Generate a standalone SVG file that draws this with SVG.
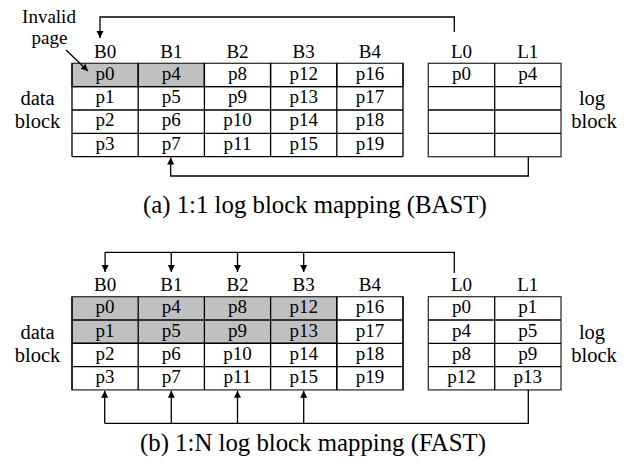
<svg xmlns="http://www.w3.org/2000/svg" width="624" height="461" viewBox="0 0 624 461">
<defs>
<style>
text{font-family:"Liberation Serif","Times New Roman",serif;fill:#000}
.c{font-size:19px;text-anchor:middle}
.s{font-size:20.5px;text-anchor:middle}
.cap{font-size:24.8px}
.cell{fill:#fff;stroke:#333;stroke-width:1.3}
.inv{fill:#c0c0c0;stroke:#333;stroke-width:1.3}
.ln{fill:none;stroke:#000;stroke-width:1.3}
</style>
<marker id="ah" viewBox="0 0 10 10" refX="10" refY="5" markerWidth="7" markerHeight="10" markerUnits="userSpaceOnUse" orient="auto"><path d="M0,0L10,5L0,10Z" fill="#000"/></marker>
</defs>
<rect width="624" height="461" fill="#fff"/>

<!-- ===== (a) ===== -->
<g id="a-data">
<rect class="inv" x="72" y="63.3" width="66.2" height="23.3"/>
<rect class="inv" x="138.2" y="63.3" width="66.2" height="23.3"/>
<rect class="cell" x="204.4" y="63.3" width="66.2" height="23.3"/>
<rect class="cell" x="270.6" y="63.3" width="66.2" height="23.3"/>
<rect class="cell" x="336.8" y="63.3" width="66.2" height="23.3"/>
<path class="ln" d="M72 86.6H403M72 110H403M72 133.3H403M72 156.7H403M72 63.3V156.7M138.2 63.3V156.7M204.4 63.3V156.7M270.6 63.3V156.7M336.8 63.3V156.7M403 63.3V156.7" stroke="#333"/>
<text class="c" x="105.1" y="57.5">B0</text><text class="c" x="171.3" y="57.5">B1</text><text class="c" x="237.5" y="57.5">B2</text><text class="c" x="303.7" y="57.5">B3</text><text class="c" x="369.9" y="57.5">B4</text>
<text class="c" x="105.1" y="79.8">p0</text><text class="c" x="171.3" y="79.8">p4</text><text class="c" x="237.5" y="79.8">p8</text><text class="c" x="303.7" y="79.8">p12</text><text class="c" x="369.9" y="79.8">p16</text>
<text class="c" x="105.1" y="103.1">p1</text><text class="c" x="171.3" y="103.1">p5</text><text class="c" x="237.5" y="103.1">p9</text><text class="c" x="303.7" y="103.1">p13</text><text class="c" x="369.9" y="103.1">p17</text>
<text class="c" x="105.1" y="126.4">p2</text><text class="c" x="171.3" y="126.4">p6</text><text class="c" x="237.5" y="126.4">p10</text><text class="c" x="303.7" y="126.4">p14</text><text class="c" x="369.9" y="126.4">p18</text>
<text class="c" x="105.1" y="149.7">p3</text><text class="c" x="171.3" y="149.7">p7</text><text class="c" x="237.5" y="149.7">p11</text><text class="c" x="303.7" y="149.7">p15</text><text class="c" x="369.9" y="149.7">p19</text>
<text class="s" x="37.5" y="105">data</text><text class="s" x="37.5" y="128">block</text>
</g>
<g id="a-log">
<rect class="cell" x="428.3" y="63.3" width="132.7" height="93.4"/>
<path class="ln" d="M428.3 86.6H561M428.3 110H561M428.3 133.3H561M494.7 63.3V156.7" stroke="#333"/>
<text class="c" x="461.5" y="57.5">L0</text><text class="c" x="527.8" y="57.5">L1</text>
<text class="c" x="461.5" y="79.8">p0</text><text class="c" x="527.8" y="79.8">p4</text>
<text class="s" x="592" y="105">log</text><text class="s" x="594" y="128">block</text>
</g>
<g id="a-note">
<text class="c" x="49" y="22.5">Invalid</text>
<text class="c" x="49.5" y="44">page</text>
</g>
<g id="a-connectors">
<path class="ln" d="M66 50L88 71" marker-end="url(#ah)"/>
<path class="ln" d="M454.3 32V17H100V38" marker-end="url(#ah)"/>
<path class="ln" d="M528.3 156.7V176H170.7V157.5" marker-end="url(#ah)"/>
</g>
<text class="cap" x="143" y="213">(a) 1:1 log block mapping (BAST)</text>

<!-- ===== (b) ===== -->
<g id="b-data">
<rect class="inv" x="72" y="296.7" width="264.8" height="46.6"/>
<rect class="cell" x="72" y="343.3" width="264.8" height="46.6"/>
<rect class="cell" x="336.8" y="296.7" width="66.2" height="93.2"/>
<path class="ln" d="M72 320H403M72 343.3H403M72 366.6H403M72 296.7V389.9M138.2 296.7V389.9M204.4 296.7V389.9M270.6 296.7V389.9M336.8 296.7V389.9M403 296.7V389.9" stroke="#333"/>
<text class="c" x="105.1" y="290.5">B0</text><text class="c" x="171.3" y="290.5">B1</text><text class="c" x="237.5" y="290.5">B2</text><text class="c" x="303.7" y="290.5">B3</text><text class="c" x="369.9" y="290.5">B4</text>
<text class="c" x="105.1" y="313.2">p0</text><text class="c" x="171.3" y="313.2">p4</text><text class="c" x="237.5" y="313.2">p8</text><text class="c" x="303.7" y="313.2">p12</text><text class="c" x="369.9" y="313.2">p16</text>
<text class="c" x="105.1" y="336.5">p1</text><text class="c" x="171.3" y="336.5">p5</text><text class="c" x="237.5" y="336.5">p9</text><text class="c" x="303.7" y="336.5">p13</text><text class="c" x="369.9" y="336.5">p17</text>
<text class="c" x="105.1" y="359.8">p2</text><text class="c" x="171.3" y="359.8">p6</text><text class="c" x="237.5" y="359.8">p10</text><text class="c" x="303.7" y="359.8">p14</text><text class="c" x="369.9" y="359.8">p18</text>
<text class="c" x="105.1" y="383.1">p3</text><text class="c" x="171.3" y="383.1">p7</text><text class="c" x="237.5" y="383.1">p11</text><text class="c" x="303.7" y="383.1">p15</text><text class="c" x="369.9" y="383.1">p19</text>
<text class="s" x="37.5" y="338.5">data</text><text class="s" x="37.5" y="361.5">block</text>
</g>
<g id="b-log">
<rect class="cell" x="428.3" y="296.7" width="132.7" height="93.2"/>
<path class="ln" d="M428.3 320H561M428.3 343.3H561M428.3 366.6H561M494.7 296.7V389.9" stroke="#333"/>
<text class="c" x="461.5" y="290.5">L0</text><text class="c" x="527.8" y="290.5">L1</text>
<text class="c" x="461.5" y="313.2">p0</text><text class="c" x="527.8" y="313.2">p1</text>
<text class="c" x="461.5" y="336.5">p4</text><text class="c" x="527.8" y="336.5">p5</text>
<text class="c" x="461.5" y="359.8">p8</text><text class="c" x="527.8" y="359.8">p9</text>
<text class="c" x="461.5" y="383.1">p12</text><text class="c" x="527.8" y="383.1">p13</text>
<text class="s" x="592" y="338.5">log</text><text class="s" x="594" y="361.5">block</text>
</g>
<g id="b-connectors">
<path class="ln" d="M454.3 273V252.3H105.1"/>
<path class="ln" d="M105.1 252.3V272" marker-end="url(#ah)"/>
<path class="ln" d="M171.3 252.3V272" marker-end="url(#ah)"/>
<path class="ln" d="M237.5 252.3V272" marker-end="url(#ah)"/>
<path class="ln" d="M303.7 252.3V272" marker-end="url(#ah)"/>
<path class="ln" d="M528.3 389.9V423.3H104.7"/>
<path class="ln" d="M104.7 423.3V390.7" marker-end="url(#ah)"/>
<path class="ln" d="M171.3 423.3V390.7" marker-end="url(#ah)"/>
<path class="ln" d="M237.5 423.3V390.7" marker-end="url(#ah)"/>
<path class="ln" d="M303.7 423.3V390.7" marker-end="url(#ah)"/>
</g>
<text class="cap" x="140" y="451">(b) 1:N log block mapping (FAST)</text>
</svg>
